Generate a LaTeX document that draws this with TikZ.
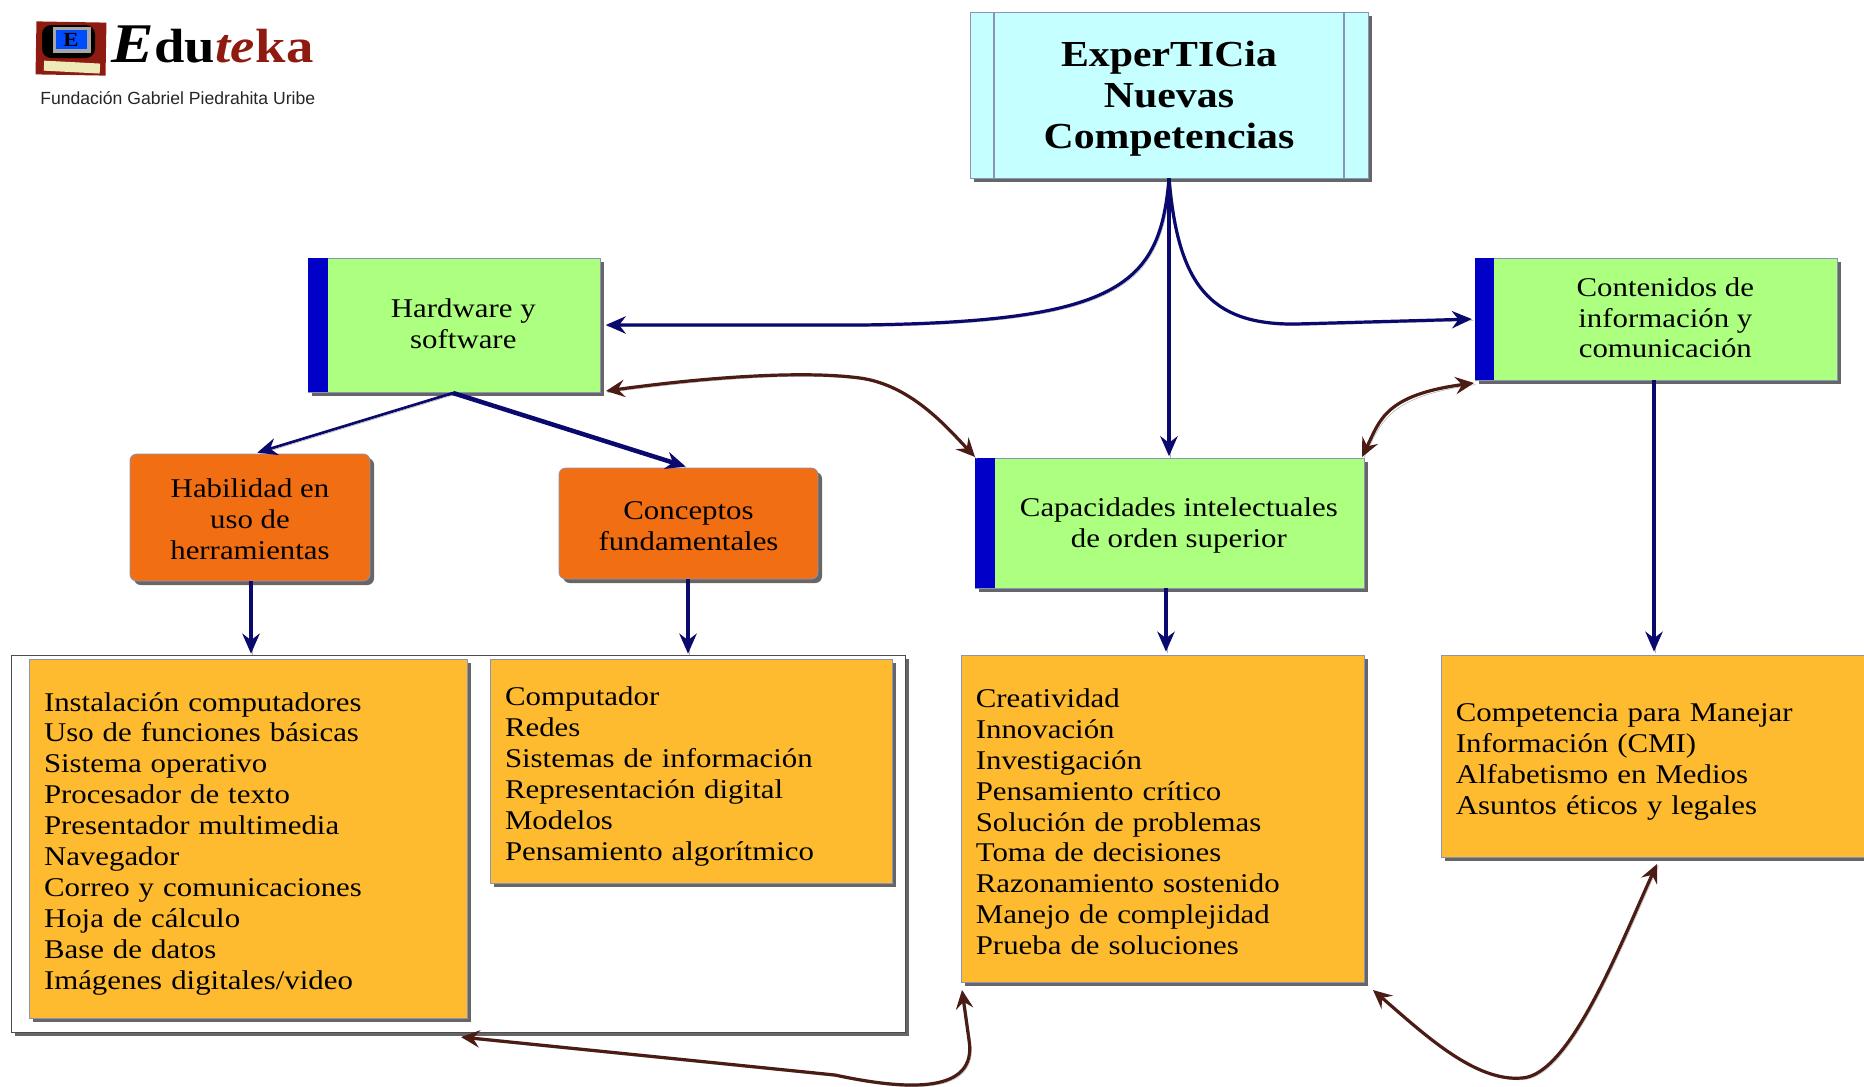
\documentclass[tikz,border=0pt]{standalone}
\usepackage{fontspec}
\setmainfont{Liberation Serif}[FakeStretch=1.14]
\newfontfamily\logosans{Liberation Sans}
\usetikzlibrary{arrows.meta,shadows,calc}
\definecolor{navyline}{HTML}{0A0A6E}
\definecolor{brownline}{HTML}{4A1C14}
\definecolor{greenbox}{HTML}{ADFF80}
\definecolor{orangebox}{HTML}{F26E12}
\definecolor{amberbox}{HTML}{FEBB30}
\definecolor{cyanbox}{HTML}{C6FFFF}
\definecolor{barblue}{HTML}{0000C8}
\definecolor{edge}{HTML}{8A94B8}
\definecolor{logored}{HTML}{8E1A10}
\tikzset{
  sh/.style={drop shadow={shadow xshift=3pt,shadow yshift=-3pt,fill=black,opacity=.6}},
  basebox/.style={sh,draw=edge,line width=.6pt,inner sep=0pt,align=center},
  topbox/.style={basebox,fill=cyanbox,font=\fontsize{27.5}{30.8}\selectfont\bfseries},
  greenb/.style={basebox,fill=greenbox,font=\fontsize{20.3}{23.2}\selectfont},
  orangeb/.style={basebox,fill=orangebox,rounded corners=5pt,font=\fontsize{20.3}{23.2}\selectfont},
  listb/.style={basebox,fill=amberbox,align=left,inner xsep=11pt,font=\fontsize{20.3}{23.2}\selectfont},
  shellb/.style={sh,draw=black!70,line width=.7pt,fill=white,inner sep=0pt},
  lineshade/.style={preaction={draw=black!30,arrows=-,transform canvas={xshift=1.2pt,yshift=-1.2pt}}},
  conn/.style={navyline,line width=2.4pt,lineshade,shorten >=1pt,-{Stealth[length=15pt,width=13pt]}},
  link/.style={brownline,line width=2.4pt,lineshade,{Stealth[length=14pt,width=13pt,inset=5pt]}-{Stealth[length=14pt,width=13pt,inset=5pt]}},
}
\newcommand{\bx}[7]{%
  \pgfmathsetmacro\wA{(#4-#2)*.75}%
  \pgfmathsetmacro\hA{(#5-#3)*.75}%
  \node[#6,minimum width=\wA pt,minimum height=\hA pt] (#1) at ({(#2+#4)/2},{(#3+#5)/2}) {#7};}
\newcommand{\lft}[1]{\hspace*{14pt}\begin{tabular}{@{}c@{}}#1\end{tabular}}
\newcommand{\dn}[1]{\rule{0pt}{#1pt}}
\begin{document}
\begin{tikzpicture}[x=.75pt,y=-.75pt]
\useasboundingbox (0,0) rectangle (1864,1086);
% logo
\fill[logored,rotate around={-1:(71,48)}] (36,22) rectangle (106,75);
\fill[black,rounded corners=7pt] (42,25) rectangle (95,58);
\fill[black!35] (53,27) rectangle (91,53);
\fill[blue!70!cyan] (56,30) rectangle (87,49);
\node[inner sep=0pt,font=\fontsize{15}{15}\selectfont\bfseries,text=black] (logoE) at (71,40) {E};
\fill[black!25!yellow!30!white,rotate around={-3:(70,66)}] (44,62) rectangle (100,72);
\node[inner sep=0pt,anchor=base west,font=\fontsize{42}{42}\selectfont\bfseries\itshape] (logoA) at (111,62) {E};
\node[inner sep=0pt,anchor=base west,font=\fontsize{36}{36}\selectfont\bfseries] (logoB) at (logoA.base east) {du};
\node[inner sep=0pt,anchor=base west,font=\fontsize{36}{36}\selectfont\bfseries\itshape,text=logored] (logoC) at (logoB.base east) {te};
\node[inner sep=0pt,anchor=base west,font=\fontsize{36}{36}\selectfont\bfseries,text=logored] (logoD) at (logoC.base east) {ka};
\node[inner sep=0pt,anchor=west,font=\logosans\fontsize{13.2}{14}\selectfont,text=black!85] (fund) at (40,98) {Fundación Gabriel Piedrahita Uribe};
% boxes
\bx{top}{970}{12}{1368}{178}{topbox}{\dn{24}ExperTICia\\Nuevas\\Competencias}
\draw[edge,line width=.9pt] (994,12) -- (994,178) (1344,12) -- (1344,178);
\bx{hw}{308}{258}{600}{392}{greenb}{\lft{\dn{19}Hardware y\\software}}
\bx{cont}{1475}{258}{1837}{380}{greenb}{\lft{\dn{19}Contenidos de\\información y\\comunicación}}
\bx{cap}{975}{458}{1364}{588}{greenb}{\lft{\dn{20}Capacidades intelectuales\\de orden superior}}
\fill[barblue] (308,258) rectangle (328,392);
\fill[barblue] (1475,258) rectangle (1494,380);
\fill[barblue] (975,458) rectangle (995,588);
\bx{hab}{130}{454}{370}{581}{orangeb}{\dn{17}Habilidad en\\uso de\\herramientas}
\bx{con}{559}{468}{818}{579}{orangeb}{\dn{17}Conceptos\\fundamentales}
\bx{shell}{11}{655}{905}{1032}{shellb}{}
\bx{la}{29}{659}{467}{1018}{listb,text width=306pt}{\dn{22}Instalación computadores\\Uso de funciones básicas\\Sistema operativo\\Procesador de texto\\Presentador multimedia\\Navegador\\Correo y comunicaciones\\Hoja de cálculo\\Base de datos\\Imágenes digitales/video}
\bx{lb}{490}{659}{892}{883}{listb,text width=279pt}{\dn{22}Computador\\Redes\\Sistemas de información\\Representación digital\\Modelos\\Pensamiento algorítmico}
\bx{lc}{961}{655}{1364}{982}{listb,text width=280pt}{\dn{19}Creatividad\\Innovación\\Investigación\\Pensamiento crítico\\Solución de problemas\\Toma de decisiones\\Razonamiento sostenido\\Manejo de complejidad\\Prueba de soluciones}
\bx{ld}{1441}{655}{1884}{857}{listb,text width=310pt}{\dn{22}Competencia para Manejar\\Información (CMI)\\Alfabetismo en Medios\\Asuntos éticos y legales}
% connectors
\coordinate (hwB) at (453,393);
\coordinate (habT) at (256,453);
\coordinate (conT) at (687,467);
\coordinate (laT) at (251,655);
\coordinate (lbT) at (688,655);
\coordinate (lcT) at (1166,653);
\coordinate (ldT) at (1654,653);
\draw[conn,shorten >=4pt] (top.south) .. controls (1160,285) and (1120,322) .. (860,325) -- (hw.east);
\draw[conn] (top.south) -- (top.south |- cap.north);
\draw[conn,shorten >=2pt] (top.south) .. controls (1178,285) and (1210,325) .. (1296,324) -- (cont.west);
\draw[conn,line width=2pt] (hwB) -- (habT);
\draw[conn,line width=3.4pt] (hwB) -- (conT);
\draw[conn] (laT |- hab.south) -- (laT);
\draw[conn] (lbT |- con.south) -- (lbT);
\draw[conn] (lcT |- cap.south) -- (lcT);
\draw[conn] (ldT |- cont.south) -- (ldT);
% two-way links
\coordinate (lkHw) at (606,391);
\coordinate (lkCapA) at (975,457);
\coordinate (lkCapB) at (1362,457);
\coordinate (lkCont) at (1474,383);
\coordinate (lkShell) at (461,1037);
\coordinate (lkLcA) at (962,990);
\coordinate (lkLcB) at (1373,990);
\coordinate (lkLd) at (1657,864);
\draw[link] (lkHw) .. controls (700,378) and (800,370) .. (860,378) .. controls (910,385) and (945,425) .. (lkCapA);
\draw[link] (lkCapB) .. controls (1380,420) and (1385,395) .. (lkCont);
\draw[link] (lkShell) -- (835,1075) .. controls (905,1090) and (978,1095) .. (969,1040) -- (lkLcA);
\draw[link] (lkLcB) .. controls (1425,1035) and (1475,1082) .. (1522,1078) .. controls (1570,1075) and (1620,945) .. (lkLd);
\end{tikzpicture}
\end{document}
